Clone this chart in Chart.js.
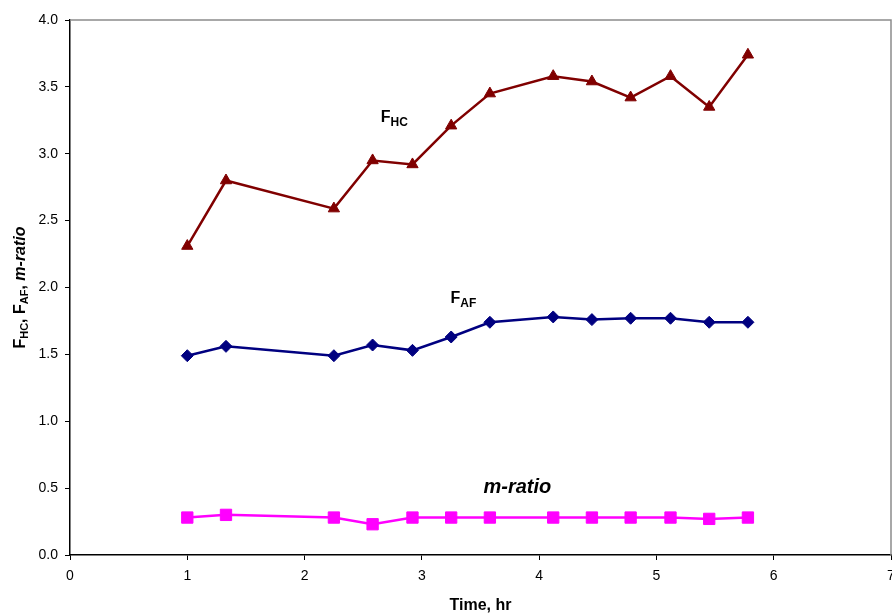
<!DOCTYPE html>
<html>
<head>
<meta charset="utf-8">
<script src="https://cdn.jsdelivr.net/npm/chart.js@4.4.1/dist/chart.umd.min.js"></script>
<style>
  html, body { margin: 0; padding: 0; background: #fff; }
</style>
</head>
<body>
<canvas id="chart" width="892" height="613"></canvas>
<script>
// Series values
const times = [1.0, 1.33, 2.25, 2.58, 2.92, 3.25, 3.58, 4.12, 4.45, 4.78, 5.12, 5.45, 5.78];
const fHC = [2.31, 2.80, 2.59, 2.95, 2.92, 3.21, 3.45, 3.58, 3.54, 3.42, 3.58, 3.35, 3.74];
const fAF = [1.49, 1.56, 1.49, 1.57, 1.53, 1.63, 1.74, 1.78, 1.76, 1.77, 1.77, 1.74, 1.74];
const mRatio = [0.28, 0.30, 0.28, 0.23, 0.28, 0.28, 0.28, 0.28, 0.28, 0.28, 0.28, 0.27, 0.28];

// Axis ticks
const xTicks = [0, 1, 2, 3, 4, 5, 6, 7];
const yTicks = [0, 0.5, 1, 1.5, 2, 2.5, 3, 3.5, 4];
const yTickLabels = ["0.0", "0.5", "1.0", "1.5", "2.0", "2.5", "3.0", "3.5", "4.0"];

const FONT = "'Liberation Sans', Arial, sans-serif";

function toPoints(ys) {
  return times.map((t, i) => ({ x: t, y: ys[i] }));
}

// Draw text made of runs (for subscripts), returns total width
function drawRuns(ctx, runs, x, y, measureOnly) {
  let cx = x;
  runs.forEach(r => {
    ctx.font = `${r.style} ${r.size}px ${FONT}`;
    if (!measureOnly) ctx.fillText(r.text, cx, y + (r.dy || 0));
    cx += ctx.measureText(r.text).width;
  });
  return cx - x;
}

const labelsPlugin = {
  id: "labels",
  afterDraw(chart) {
    const { ctx, chartArea, scales } = chart;
    const sx = scales.x, sy = scales.y;
    ctx.save();

    // grey frame on top and right
    ctx.strokeStyle = "#8c8c8c";
    ctx.lineWidth = 1.5;
    ctx.beginPath();
    ctx.moveTo(chartArea.left, chartArea.top);
    ctx.lineTo(chartArea.right, chartArea.top);
    ctx.lineTo(chartArea.right, chartArea.bottom);
    ctx.stroke();

    ctx.fillStyle = "#000";
    ctx.textAlign = "left";
    ctx.textBaseline = "alphabetic";

    // series labels
    drawRuns(ctx, [
      { text: "F", size: 16, style: "bold" },
      { text: "HC", size: 12, style: "bold", dy: 4 }
    ], sx.getPixelForValue(2.65), sy.getPixelForValue(3.24));

    drawRuns(ctx, [
      { text: "F", size: 16, style: "bold" },
      { text: "AF", size: 12, style: "bold", dy: 4 }
    ], sx.getPixelForValue(3.245), sy.getPixelForValue(1.885));

    drawRuns(ctx, [
      { text: "m-ratio", size: 20, style: "italic bold" }
    ], sx.getPixelForValue(3.525), sy.getPixelForValue(0.46));

    // y axis title, rotated
    const yTitle = [
      { text: "F", size: 16, style: "bold" },
      { text: "HC", size: 11, style: "bold", dy: 3 },
      { text: ", F", size: 16, style: "bold" },
      { text: "AF", size: 11, style: "bold", dy: 3 },
      { text: ", ", size: 16, style: "bold" },
      { text: "m-ratio", size: 16, style: "italic bold" }
    ];
    ctx.save();
    ctx.translate(25, (chartArea.top + chartArea.bottom) / 2);
    ctx.rotate(-Math.PI / 2);
    const w = drawRuns(ctx, yTitle, 0, 0, true);
    drawRuns(ctx, yTitle, -w / 2, 0);
    ctx.restore();

    // x axis title
    ctx.font = `bold 16px ${FONT}`;
    ctx.textAlign = "center";
    ctx.fillText("Time, hr", (chartArea.left + chartArea.right) / 2, 610);

    ctx.restore();
  }
};

new Chart(document.getElementById("chart"), {
  type: "scatter",
  data: {
    datasets: [
      {
        label: "m-ratio",
        data: toPoints(mRatio),
        showLine: true,
        borderColor: "#ff00ff",
        backgroundColor: "#ff00ff",
        borderWidth: 2.5,
        pointStyle: "rect",
        pointRadius: 8,
        pointBorderWidth: 1
      },
      {
        label: "FAF",
        data: toPoints(fAF),
        showLine: true,
        borderColor: "#000080",
        backgroundColor: "#000080",
        borderWidth: 2.5,
        pointStyle: "rectRot",
        pointRadius: 6,
        pointBorderWidth: 1
      },
      {
        label: "FHC",
        data: toPoints(fHC),
        showLine: true,
        borderColor: "#800000",
        backgroundColor: "#800000",
        borderWidth: 2.5,
        pointStyle: "triangle",
        pointRadius: 6.5,
        pointBorderWidth: 1
      }
    ]
  },
  options: {
    responsive: false,
    animation: false,
    // no extra room for points; the "7" label gets clipped like in the original
    layout: { autoPadding: false, padding: { top: 20, right: 1, bottom: 0, left: 0 } },
    plugins: {
      legend: { display: false },
      tooltip: { enabled: false }
    },
    scales: {
      x: {
        type: "linear",
        min: 0,
        max: 7,
        afterBuildTicks: s => { s.ticks = xTicks.map(v => ({ value: v })); },
        afterFit: s => {
          s.height = 58;
          s.paddingLeft = 0;
          s.paddingRight = 0;
        },
        ticks: {
          font: { family: FONT, size: 14 },
          color: "#000",
          padding: 8,
          maxRotation: 0,
          autoSkip: false,
          callback: v => String(v)
        },
        grid: { drawOnChartArea: false, drawTicks: true, tickLength: 5, tickColor: "#000", tickWidth: 1 },
        border: { color: "#000", width: 1.5 }
      },
      y: {
        type: "linear",
        min: 0,
        max: 4,
        afterBuildTicks: s => { s.ticks = yTicks.map(v => ({ value: v })); },
        afterFit: s => {
          s.width = 70;
          s.paddingTop = 0;
          s.paddingBottom = 0;
        },
        ticks: {
          font: { family: FONT, size: 14 },
          color: "#000",
          padding: 7,
          autoSkip: false,
          callback: v => yTickLabels[yTicks.indexOf(v)]
        },
        grid: { drawOnChartArea: false, drawTicks: true, tickLength: 5, tickColor: "#000", tickWidth: 1 },
        border: { color: "#000", width: 1.5 }
      }
    }
  },
  plugins: [labelsPlugin]
});
</script>
</body>
</html>
